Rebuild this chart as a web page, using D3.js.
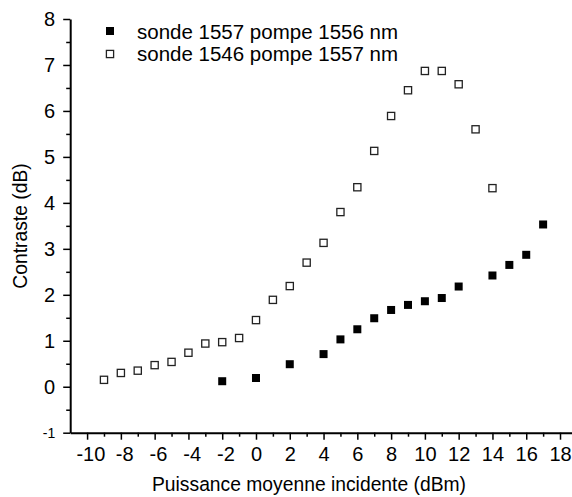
<!DOCTYPE html>
<html>
<head>
<meta charset="utf-8">
<script src="https://cdn.jsdelivr.net/npm/d3@7"></script>
<style>
  body { margin: 0; background: #fff; }
  svg { font-family: "Liberation Sans", Arial, sans-serif; }
  .axis path, .axis line { stroke: #000; }
  .axis path { stroke-width: 2; }
  .axis line { stroke-width: 1.5; }
</style>
</head>
<body>
<svg id="chart" width="572" height="497"></svg>
<script>
// sonde 1557 pompe 1556 nm (filled squares)
var x_filled = [-2, 0, 2, 4, 5, 6, 7, 8, 9, 10, 11, 12, 14, 15, 16, 17];
var y_filled = [0.12, 0.19, 0.49, 0.71, 1.03, 1.25, 1.49, 1.67, 1.78, 1.86, 1.93, 2.18, 2.42, 2.65, 2.87, 3.53];

// sonde 1546 pompe 1557 nm (open squares)
var x_open = [-9, -8, -7, -6, -5, -4, -3, -2, -1, 0, 1, 2, 3, 4, 5, 6, 7, 8, 9, 10, 11, 12, 13, 14];
var y_open = [0.15, 0.30, 0.35, 0.47, 0.54, 0.74, 0.94, 0.97, 1.06, 1.45, 1.89, 2.19, 2.70, 3.13, 3.80,
              4.34, 5.13, 5.89, 6.45, 6.87, 6.87, 6.58, 5.60, 4.32];

var x_ticks = [-10, -8, -6, -4, -2, 0, 2, 4, 6, 8, 10, 12, 14, 16, 18];
var y_ticks = [-1, 0, 1, 2, 3, 4, 5, 6, 7, 8];
var legend_labels = ["sonde 1557 pompe 1556 nm", "sonde 1546 pompe 1557 nm"];

var svg = d3.select("#chart");

var x = d3.scaleLinear().domain([-11, 19]).range([70.2, 576.9]);
var y = d3.scaleLinear().domain([-1, 8]).range([432.7, 19]);

// minor ticks first, then major axes on top
svg.append("g")
    .attr("class", "axis")
    .attr("transform", "translate(0," + y(-1) + ")")
    .call(d3.axisBottom(x).tickValues(d3.range(-9, 20, 2)).tickSize(4).tickSizeOuter(0).tickFormat(""))
    .select(".domain").remove();

svg.append("g")
    .attr("class", "axis")
    .attr("transform", "translate(" + x(-11) + ",0)")
    .call(d3.axisLeft(y).tickValues(d3.range(-0.5, 8, 1)).tickSize(4).tickSizeOuter(0).tickFormat(""))
    .select(".domain").remove();

var xAxis = svg.append("g")
    .attr("class", "axis")
    .attr("transform", "translate(0," + y(-1) + ")")
    .call(d3.axisBottom(x).tickValues(x_ticks).tickSize(7).tickSizeOuter(0).tickPadding(7)
        .tickFormat(d => String(d)));

// digits centred under the tick, minus sign hanging to the left
xAxis.selectAll("text")
    .attr("fill", "#000")
    .attr("dx", d => d < 0 ? 3.3 : 0)
    .style("font-size", "20px");

var yAxis = svg.append("g")
    .attr("class", "axis")
    .attr("transform", "translate(" + x(-11) + ",0)")
    .call(d3.axisLeft(y).tickValues(y_ticks).tickSize(7).tickSizeOuter(0).tickPadding(8)
        .tickFormat(d => String(d)));

yAxis.selectAll("text")
    .attr("fill", "#000")
    .style("font-size", function(d) { return d == -1 ? "14px" : "20px"; });

// axis titles
svg.append("text")
    .attr("x", 309)
    .attr("y", 491)
    .attr("text-anchor", "middle")
    .style("font-size", "19.3px")
    .text("Puissance moyenne incidente (dBm)");

svg.append("text")
    .attr("transform", "translate(27," + 226 + ") rotate(-90)")
    .attr("text-anchor", "middle")
    .style("font-size", "19.3px")
    .text("Contraste (dB)");

// markers
var filled = x_filled.map(function(d, i) { return {x: d, y: y_filled[i]}; });
var open = x_open.map(function(d, i) { return {x: d, y: y_open[i]}; });

svg.selectAll("marks_open")
    .data(open)
    .enter()
    .append("rect")
    .attr("x", d => x(d.x) - 3.6)
    .attr("y", d => y(d.y) - 3.6)
    .attr("width", 7.2)
    .attr("height", 7.2)
    .attr("fill", "#fff")
    .attr("stroke", "#222")
    .attr("stroke-width", 1.3);

svg.selectAll("marks_filled")
    .data(filled)
    .enter()
    .append("rect")
    .attr("x", d => x(d.x) - 4)
    .attr("y", d => y(d.y) - 4)
    .attr("width", 8)
    .attr("height", 8)
    .attr("fill", "#000");

// legend
var legend = svg.append("g");
legend.append("rect")
    .attr("x", 106).attr("y", 27).attr("width", 8).attr("height", 8)
    .attr("fill", "#000");
legend.append("rect")
    .attr("x", 106.4).attr("y", 50.4).attr("width", 7.2).attr("height", 7.2)
    .attr("fill", "#fff").attr("stroke", "#222").attr("stroke-width", 1.3);
legend.selectAll("legend_text")
    .data(legend_labels)
    .enter()
    .append("text")
    .attr("x", 137)
    .attr("y", (d, i) => 39 + i * 22)
    .style("font-size", "20.5px")
    .text(d => d);
</script>
</body>
</html>
